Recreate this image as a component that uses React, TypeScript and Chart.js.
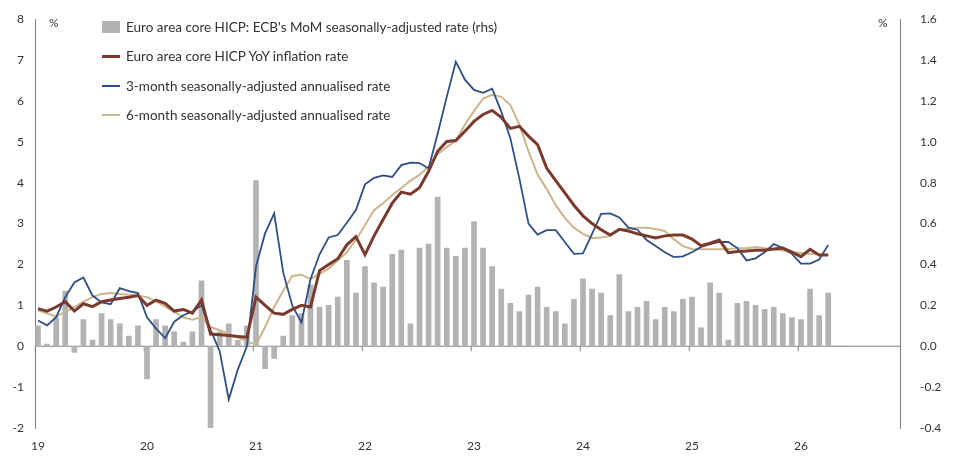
import React, { useEffect, useRef } from "react";
import { Chart, registerables } from "chart.js";
Chart.register(...registerables);

const yearLabels = ["19", "20", "21", "22", "23", "24", "25", "26"];

const momBars = [
  0.10, 0.01, 0.14, 0.27, -0.03, 0.13, 0.03, 0.16, 0.13, 0.11, 0.05, 0.10,
  -0.16, 0.13, 0.10, 0.07, 0.02, 0.07, 0.32, -0.40, 0.07, 0.11, 0.03, 0.10,
  0.81, -0.11, -0.06, 0.05, 0.15, 0.16, 0.30, 0.19, 0.20, 0.24, 0.42, 0.26,
  0.39, 0.31, 0.29, 0.45, 0.47, 0.11, 0.48, 0.50, 0.73, 0.48, 0.44, 0.48,
  0.61, 0.48, 0.39, 0.28, 0.21, 0.17, 0.25, 0.29, 0.19, 0.17, 0.11, 0.23,
  0.33, 0.28, 0.26, 0.15, 0.35, 0.17, 0.19, 0.22, 0.13, 0.19, 0.17, 0.23,
  0.24, 0.09, 0.31, 0.26, 0.03, 0.21, 0.22, 0.20, 0.18, 0.19, 0.16, 0.14,
  0.13, 0.28, 0.15, 0.26,
];

const yoyRate = [
  0.92, 0.86, 0.96, 1.09, 0.86, 1.04, 0.97, 1.09, 1.13, 1.17, 1.2, 1.24,
  1.0, 1.13, 1.05, 0.86, 0.9, 0.81, 1.13, 0.3, 0.28, 0.26, 0.24, 0.22,
  1.2, 1.0, 0.81, 0.78, 0.9, 1.0, 0.96, 1.85, 2.0, 2.14, 2.48, 2.68,
  2.24, 2.7, 3.1, 3.5, 3.77, 3.72, 3.88, 4.28, 4.77, 5.01, 5.03, 5.26,
  5.5, 5.67, 5.77, 5.6, 5.33, 5.38, 5.14, 4.93, 4.36, 4.05, 3.75, 3.45,
  3.19, 3.0, 2.85, 2.72, 2.86, 2.82, 2.75, 2.7, 2.65, 2.7, 2.72, 2.72,
  2.62, 2.46, 2.52, 2.6, 2.29, 2.32, 2.33, 2.35, 2.35, 2.38, 2.4, 2.3,
  2.19, 2.37, 2.23, 2.23,
];

const saar3m = [
  0.63, 0.51, 0.71, 1.2, 1.56, 1.68, 1.24, 1.07, 1.03, 1.42, 1.35, 1.3,
  0.71, 0.43, 0.2, 0.6, 0.76, 0.85, 1.0, 0.4, -0.12, -1.3, -0.57, 0.0,
  1.95, 2.76, 3.25, 1.8, 0.99, 0.58, 1.64, 2.25, 2.66, 2.72, 3.02, 3.33,
  3.96, 4.12, 4.18, 4.14, 4.43, 4.49, 4.48, 4.35, 5.2, 6.1, 6.96, 6.52,
  6.27, 6.2, 6.3, 5.74, 5.09, 4.1, 3.0, 2.73, 2.84, 2.84, 2.55, 2.26,
  2.27, 2.75, 3.24, 3.25, 3.15, 2.9, 2.85, 2.6, 2.45, 2.3, 2.18, 2.2,
  2.3, 2.43, 2.5, 2.55, 2.55, 2.4, 2.1, 2.15, 2.3, 2.5, 2.4, 2.26,
  2.02, 2.02, 2.12, 2.48,
];

const saar6m = [
  0.88, 0.8, 0.73, 0.84, 0.96, 1.09, 1.2, 1.28, 1.3, 1.28, 1.26, 1.24,
  1.2, 1.1, 0.97, 0.84, 0.71, 0.65, 0.71, 0.47, 0.39, 0.3, 0.22, 0.12,
  0.04, 0.47, 0.96, 1.36, 1.72, 1.75, 1.64, 1.77, 1.9, 2.1, 2.3, 2.6,
  2.96, 3.33, 3.5, 3.7, 3.87, 4.05, 4.19, 4.4, 4.7, 4.87, 5.03, 5.42,
  5.75, 6.06, 6.15, 6.1, 5.9, 5.42, 4.77, 4.2, 3.85, 3.45, 3.14, 2.9,
  2.75, 2.65, 2.66, 2.7, 2.84, 2.88, 2.9, 2.9, 2.87, 2.82, 2.62, 2.45,
  2.38, 2.37, 2.37, 2.37, 2.38, 2.4, 2.4, 2.43, 2.4, 2.38, 2.34, 2.3,
  2.28, 2.26, 2.25, 2.24,
];

const legendItems = [
  { label: "Euro area core HICP: ECB's MoM seasonally-adjusted rate (rhs)", kind: "bar", color: "#b3b3b3" },
  { label: "Euro area core HICP YoY inflation rate", kind: "line", color: "#7b3a2e", w: 3 },
  { label: "3-month seasonally-adjusted annualised rate", kind: "line", color: "#2f4f86", w: 2 },
  { label: "6-month seasonally-adjusted annualised rate", kind: "line", color: "#cdb58c", w: 2 },
];

const FONT = "Lato, 'Open Sans', sans-serif";

export default function App() {
  const ref = useRef<HTMLCanvasElement>(null);
  useEffect(() => {
    const pts = (a: number[]) => a.map((v, i) => ({ x: i, y: v }));
    const zeroPlugin = {
      id: "zero",
      beforeDatasetsDraw(chart: any) {
        const { ctx, chartArea, scales } = chart;
        const y0 = scales.y.getPixelForValue(0);
        ctx.save();
        ctx.strokeStyle = "#808080";
        ctx.lineWidth = 1;
        ctx.beginPath();
        ctx.moveTo(chartArea.left, y0);
        ctx.lineTo(chartArea.right, y0);
        for (let k = 0; k < yearLabels.length; k++) {
          const x = scales.x.getPixelForValue(k * 12 - 0.3);
          ctx.moveTo(x, y0);
          ctx.lineTo(x, y0 + 5);
        }
        ctx.stroke();
        ctx.fillStyle = "#333";
        ctx.font = `12px ${FONT}`;
        ctx.fillText("%", chartArea.left + 14, chartArea.top + 8);
        ctx.fillText("%", chartArea.right - 22, chartArea.top + 8);
        ctx.restore();
      },
    };
    const chart = new Chart(ref.current!, {
      type: "bar",
      data: {
        datasets: [
          { type: "line", data: pts(yoyRate), borderColor: "#7b3a2e", borderWidth: 3, pointRadius: 0, yAxisID: "y", order: 1 } as any,
          { type: "line", data: pts(saar3m), borderColor: "#2f4f86", borderWidth: 1.8, pointRadius: 0, yAxisID: "y", order: 2 } as any,
          { type: "line", data: pts(saar6m), borderColor: "#cdb58c", borderWidth: 2, pointRadius: 0, yAxisID: "y", order: 3 } as any,
          { type: "bar", data: pts(momBars), backgroundColor: "#b3b3b3", barThickness: 5, yAxisID: "y1", order: 4 } as any,
        ],
      },
      options: {
        animation: false,
        responsive: false,
        layout: { padding: { top: 17, bottom: 0, left: 0, right: 0 } },
        plugins: { legend: { display: false }, tooltip: { enabled: false } },
        scales: {
          x: {
            type: "linear",
            offset: false,
            min: -0.33,
            max: 94.9,
            grid: { display: false, offset: false },
            border: { display: false },
            afterBuildTicks: (s: any) => { s.ticks = yearLabels.map((_, k) => ({ value: k * 12 })); },
            ticks: { callback: (v: any) => yearLabels[Math.round(v / 12)] ?? "", color: "#333", font: { size: 12, family: FONT }, maxRotation: 0, autoSkip: false },
            afterFit: (s: any) => { s.height = 35; },
          },
          y: {
            position: "left",
            min: -2,
            max: 8,
            grid: { display: false, drawTicks: true },
            border: { display: true, color: "#808080" },
            ticks: { stepSize: 1, color: "#333", font: { size: 12, family: FONT } },
            afterFit: (s: any) => { s.width = 35; },
          },
          y1: {
            position: "right",
            min: -0.4,
            max: 1.6,
            grid: { display: false },
            border: { display: true, color: "#808080" },
            ticks: { stepSize: 0.2, color: "#333", font: { size: 12, family: FONT }, padding: 12, callback: (v: any) => Number(v).toFixed(1) },
            afterFit: (s: any) => { s.width = 54; },
          },
        },
      } as any,
      plugins: [zeroPlugin],
    });
    return () => chart.destroy();
  }, []);
  return (
    <div style={{ position: "absolute", left: 0, top: 0, width: 954, height: 463, background: "#fff" }}>
      <canvas ref={ref} width={954} height={463} style={{ width: 954, height: 463, display: "block" }} />
      <div style={{ position: "absolute", left: 102, top: 12, fontFamily: FONT, fontSize: 13.5, color: "#333" }}>
        {legendItems.map((it, k) => (
          <div key={k} style={{ display: "flex", alignItems: "center", height: 29.5 }}>
            {it.kind === "bar" ? (
              <span style={{ display: "inline-block", width: 18, height: 12, background: it.color, marginRight: 6 }} />
            ) : (
              <span style={{ display: "inline-block", width: 18, height: it.w, background: it.color, marginRight: 6 }} />
            )}
            <span>{it.label}</span>
          </div>
        ))}
      </div>
    </div>
  );
}
